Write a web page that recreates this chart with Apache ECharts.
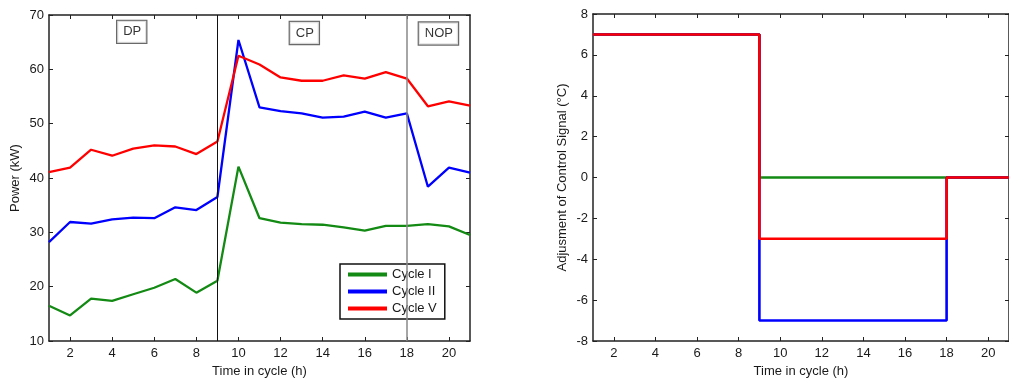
<!DOCTYPE html>
<html>
<head>
<meta charset="utf-8">
<script src="https://cdn.jsdelivr.net/npm/echarts@6/dist/echarts.min.js"></script>
<style>
html,body{margin:0;padding:0;background:#fff;}
#c{width:1009px;height:383px;}
</style>
</head>
<body>
<div id="c"></div>
<script>
// ---- data ----
const hours = [1,2,3,4,5,6,7,8,9,10,11,12,13,14,15,16,17,18,19,20,21];
const powerCycleI  = [16.5,14.7,17.8,17.4,18.6,19.8,21.4,18.9,21.1,42.1,32.6,31.8,31.5,31.4,30.9,30.3,31.2,31.2,31.5,31.1,29.5];
const powerCycleII = [28.2,31.9,31.6,32.4,32.7,32.6,34.6,34.1,36.5,65.4,53.0,52.3,51.9,51.1,51.3,52.2,51.1,51.9,38.4,41.9,41.0];
const powerCycleV  = [41.1,41.9,45.2,44.1,45.4,46.0,45.8,44.4,46.7,62.5,60.9,58.5,57.9,57.9,58.9,58.3,59.5,58.3,53.2,54.1,53.3];
const adjCycleI  = [7,7,7,7,7,7,7,7,0,0,0,0,0,0,0,0,0,0,0,0,0];
const adjCycleII = [7,7,7,7,7,7,7,7,-7,-7,-7,-7,-7,-7,-7,-7,-7,0,0,0,0];
const adjCycleV  = [7,7,7,7,7,7,7,7,-3,-3,-3,-3,-3,-3,-3,-3,-3,0,0,0,0];
const seriesNames = ['Cycle I','Cycle II','Cycle V'];
const xTickValues = [2,4,6,8,10,12,14,16,18,20];
const phaseNames = ['DP','CP','NOP'];
const phaseX = [4.93,13.13,19.5];
const phaseY = [66.9,66.7,66.6];
const phaseBounds = [9,18];

// ---- styles ----
const FONT = 'Liberation Sans, Arial, sans-serif';
const TXT = '#1a1a1a';
const FS = 13;
const colors = ['#138a13','#0000ff','#ff0000'];
const LW = 2.3;

function zip(xs, ys){ return xs.map((x,i)=>[x,ys[i]]); }

function xAxisPair(gi){
  const base = {
    type:'value', gridIndex:gi, min:1, max:21,
    splitLine:{show:false},
    axisLine:{show:true, onZero:false, lineStyle:{color:'#222', width:1.5}},
    axisTick:{show:true, inside:true, length:4, customValues:xTickValues, lineStyle:{color:'#222'}},
  };
  return [
    Object.assign({}, base, {position:'bottom',
      axisLabel:{show:true, customValues:xTickValues, color:TXT, fontFamily:FONT, fontSize:FS, margin:6},
      name:'Time in cycle (h)', nameLocation:'middle', nameGap:24,
      nameTextStyle:{color:TXT, fontFamily:FONT, fontSize:FS}}),
    Object.assign({}, base, {position:'top', axisLabel:{show:false}})
  ];
}
function yAxisPair(gi, min, max, interval, name, nameGap){
  const base = {
    type:'value', gridIndex:gi, min:min, max:max, interval:interval,
    splitLine:{show:false},
    axisLine:{show:true, onZero:false, lineStyle:{color:'#222', width:1.5}},
    axisTick:{show:true, inside:true, length:4, lineStyle:{color:'#222'}},
  };
  return [
    Object.assign({}, base, {position:'left',
      axisLabel:{show:true, color:TXT, fontFamily:FONT, fontSize:FS, margin:5},
      name:name, nameLocation:'middle', nameGap:nameGap, nameRotate:90,
      nameTextStyle:{color:TXT, fontFamily:FONT, fontSize:FS}}),
    Object.assign({}, base, {position:'right', axisLabel:{show:false}})
  ];
}

const chart = echarts.init(document.getElementById('c'), null, {renderer:'canvas'});

const xAxes = xAxisPair(0).concat(xAxisPair(1));
const yAxes = yAxisPair(0,10,70,10,'Power (kW)',27).concat(yAxisPair(1,-8,8,2,'Adjusment of Control Signal (°C)',24));

const powerData = [powerCycleI, powerCycleII, powerCycleV];
const adjData = [adjCycleI, adjCycleII, adjCycleV];

const series = [];
powerData.forEach((d,i)=>{
  series.push({
    type:'line', name:seriesNames[i], xAxisIndex:0, yAxisIndex:0,
    data: zip(hours,d), symbol:'none', showSymbol:false,
    lineStyle:{color:colors[i], width:LW}, itemStyle:{color:colors[i]},
    animation:false, z:3
  });
});
// phase boundaries
series.push({
  type:'line', xAxisIndex:0, yAxisIndex:0, data:[], silent:true, animation:false, z:2,
  markLine:{
    silent:true, symbol:'none', animation:false, label:{show:false},
    data: phaseBounds.map((b,i)=>({xAxis:b, lineStyle:{color: i===0?'#111':'#888', width: i===0?1:1.5, type:'solid'}}))
  }
});
// phase labels
series.push({
  type:'scatter', xAxisIndex:0, yAxisIndex:0, symbolSize:0, silent:true, animation:false, z:4,
  itemStyle:{color:'#ffffff'},
  data: phaseNames.map((n,i)=>({value:[phaseX[i],phaseY[i]], name:n})),
  label:{show:true, position:'inside', formatter:p=>p.name, color:'#000', fontFamily:FONT, fontSize:FS,
    textBorderWidth:0, textBorderColor:'transparent',
    backgroundColor:'#fff', borderColor:'#444', borderWidth:1.2, padding:[5,5,4,6]}
});
adjData.forEach((d,i)=>{
  series.push({
    type:'line', name:seriesNames[i], xAxisIndex:2, yAxisIndex:2,
    data: zip(hours,d), step:'end', symbol:'none', showSymbol:false,
    lineStyle:{color:colors[i], width:LW+0.3}, itemStyle:{color:colors[i]},
    animation:false, z:3+i
  });
});

chart.setOption({
  animation:false,
  backgroundColor:'#fff',
  grid:[
    {left:49, top:15, width:421, height:332, containLabel:false},
    {left:593, top:14, width:420, height:332, containLabel:false}
  ],
  xAxis: xAxes,
  yAxis: yAxes,
  legend:{
    data:seriesNames, orient:'vertical', left:340, top:264,
    itemWidth:39, itemHeight:14, itemGap:4, padding:[4,8,4,8],
    borderColor:'#111', borderWidth:1.5, backgroundColor:'#fff',
    textStyle:{color:TXT, fontFamily:FONT, fontSize:FS}, icon:'path://M0,0L10,0L10,1L0,1Z',
    selectedMode:false
  },
  series: series
});
</script>
</body>
</html>
